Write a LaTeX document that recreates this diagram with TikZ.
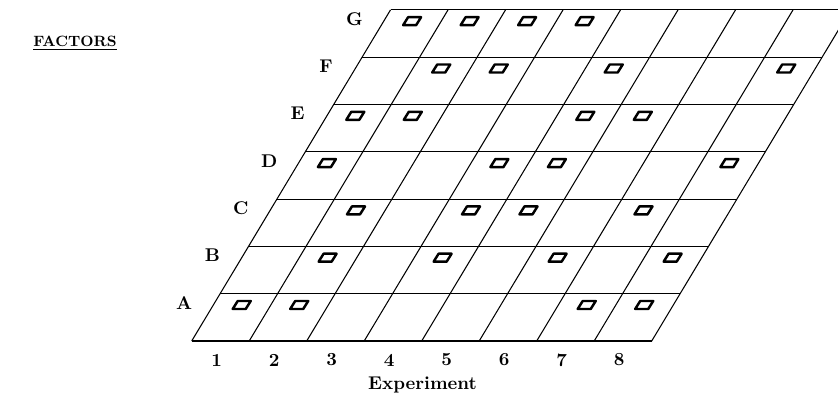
\documentclass[tikz,border=0pt]{standalone}
\begin{document}
\begin{tikzpicture}[x=0.02cm, y=0.02cm, line width=0.6pt,
  lab/.style={font=\fontsize{10.5}{12}\selectfont\bfseries, inner sep=0pt},
  chip/.style={line width=1.4pt, line join=round}]
  \useasboundingbox (0,0) rectangle (838,400);
  \clip (0,0) rectangle (838,400);
  % Raster (8 Versuche x 7 Faktoren)
  \foreach \r in {0,...,7}
    \draw (191.7+\r*28.4, 59+\r*47.3) -- ++(460,0);
  \foreach \c in {0,...,8}
    \draw (191.7+\c*57.5, 59) -- ++(198.8,331.1);
  % Faktoren
  \foreach \r/\f in {1/A,2/B,3/C,4/D,5/E,6/F,7/G}
    \node[lab] (fac\f) at (155.7+\r*28.4, 50+\r*47.3) {\f};
  % Versuche
  \foreach \c in {1,...,8}
    \node[lab] (exp\c) at (159.2+\c*57.5, 40) {\c};
  \node[lab] (xlabel) at (422.5, 15) {Experiment};
  \node[lab, font=\fontsize{8.5}{10}\selectfont\bfseries] (ylabel) at (75, 357)
    {\underline{FACTORS}};
  % Marken
  \foreach \r/\cols in {1/{1,2,7,8}, 2/{2,4,6,8}, 3/{2,4,5,7}, 4/{1,4,5,8},
                        5/{1,2,5,6}, 6/{2,3,5,8}, 7/{1,2,3,4}}
    \foreach \c in \cols
      \draw[chip] (155.8+\r*28.4+\c*57.5, 47.7+\r*47.3)
        ++(-9,-4) -- ++(13,0) -- ++(5,8) -- ++(-13,0) -- cycle;
\end{tikzpicture}
\end{document}
